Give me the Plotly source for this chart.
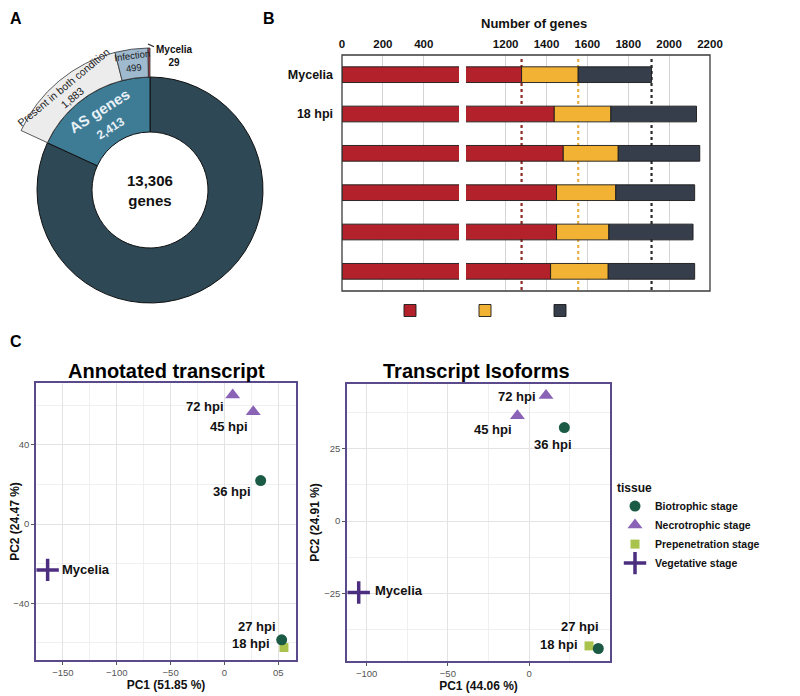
import math
import plotly.graph_objects as go

# The page body has an 8 px margin, so the figure is 792x688 placed at (8, 8).
OFF = 8
W, H = 800 - OFF, 696 - OFF
FONT = "Liberation Sans, Arial, Helvetica, sans-serif"


def px(x):
    return (x - OFF) / W


def py(y):
    return 1 - (y - OFF) / H


# ---------------- data ----------------
# Panel A
total_genes = 13306
as_genes = 2413
as_label = "AS genes"
split_labels = ["Mycelia", "Infection", "Present in both condition"]
split_values = [29, 499, 1883]

# Panel B
stages = ["Mycelia", "18 hpi", "27 hpi", "36 hpi", "45 hpi", "72 hpi"]
stage_ticktext = ["Mycelia", "18 hpi", "", "", "", ""]
seg_red = [1278, 1438, 1482, 1449, 1449, 1420]
seg_yellow = [277, 277, 269, 290, 256, 282]
seg_dark = [359, 419, 399, 386, 412, 423]
ticks_left = [0, 200, 400]
ticks_right = [1200, 1400, 1600, 1800, 2000, 2200]
x_title_b = "Number of genes"

# Panel C
samples = ["18 hpi", "27 hpi", "36 hpi", "45 hpi", "72 hpi", "Mycelia"]
tissue = ["Prepenetration stage", "Biotrophic stage", "Biotrophic stage",
          "Necrotrophic stage", "Necrotrophic stage", "Vegetative stage"]
annot_pc1 = [55.2, 53.1, 33.6, 26.7, 7.6, -164.2]
annot_pc2 = [-62.3, -58.4, 22.0, 56.8, 65.3, -23.1]
iso_pc1 = [36.9, 42.6, 21.7, -7.2, 10.4, -104.9]
iso_pc2 = [-43.0, -43.9, 32.2, 36.3, 43.2, -24.6]
annot_var = [51.85, 24.47]
iso_var = [44.06, 24.91]
tissue_levels = ["Biotrophic stage", "Necrotrophic stage", "Prepenetration stage", "Vegetative stage"]
annot_xticks = [-150, -100, -50, 0, 50]
annot_xticktext = ["\u2212150", "\u2212100", "\u221250", "0", "05"]
annot_yticks = [-40, 0, 40]
iso_xticks = [-100, -50, 0]
iso_yticks = [-25, 0, 25]

# ---------------- styles ----------------
C_DARK = "#2e4855"
C_AS = "#3e7c96"
C_BOTH = "#ececec"
C_INF = "#9fb9cf"
C_MYC = "#b5404e"
B_RED = "#b3222a"
B_YEL = "#f2b335"
B_DRK = "#363e4c"
FRAME_C = "#5b4a8b"
tissue_style = {
    "Biotrophic stage": dict(symbol="circle", color="#1b5a45", size=11, lw=0),
    "Necrotrophic stage": dict(symbol="triangle-up", color="#8a63b6", size=13, lw=0),
    "Prepenetration stage": dict(symbol="square", color="#a9c34d", size=9, lw=0),
    "Vegetative stage": dict(symbol="cross-thin", color="#4b2e80", size=16, lw=3.5),
}
draw_order = ["Prepenetration stage", "Vegetative stage", "Necrotrophic stage", "Biotrophic stage"]
annot_label_pos = {
    "72 hpi": ("right", -7, -12), "45 hpi": ("right", -3, -15),
    "36 hpi": ("right", -8, -11), "Mycelia": ("left", 12, 0),
    "27 hpi": ("right", -4, 13), "18 hpi": ("right", -12, 4),
}
iso_label_pos = {
    "72 hpi": ("right", -8, -1), "45 hpi": ("right", -3, -14),
    "36 hpi": ("center", -11, -17), "Mycelia": ("left", 14, 2),
    "27 hpi": ("right", 3, 22), "18 hpi": ("right", -9, 1),
}
# donut geometry (reference pixels)
CX, CY = 150, 190
R_OUT, R_MID, R_IN = 142, 113, 58

fig = go.Figure()

# ---------------- Panel A: donut ----------------
fig.add_trace(go.Pie(
    values=[total_genes - as_genes, as_genes],
    labels=["Other genes", as_label],
    text=["", f"<b>{as_label}</b><br><span style='font-size:12px'><b>{as_genes:,}</b></span>"],
    textinfo="text", textposition="inside", insidetextorientation="tangential",
    textfont=dict(family=FONT, size=15, color="#e8f1f6"),
    marker=dict(colors=[C_DARK, C_AS], line=dict(color="#111111", width=1)),
    hole=R_IN / R_MID, sort=False, direction="clockwise", rotation=0,
    domain=dict(x=[px(CX - R_MID), px(CX + R_MID)], y=[py(CY + R_MID), py(CY - R_MID)]),
    showlegend=False, hoverinfo="skip",
))
outer_vals = [total_genes - sum(split_values)] + split_values[::-1]
fig.add_trace(go.Pie(
    values=outer_vals,
    labels=["rest"] + split_labels[::-1],
    textinfo="none",
    marker=dict(colors=["rgba(0,0,0,0)", C_BOTH, C_INF, C_MYC],
                line=dict(color=["rgba(0,0,0,0)", "#333333", "#333333", "#333333"],
                          width=[0, 0.8, 0.8, 0.8])),
    hole=R_MID / R_OUT, sort=False, direction="clockwise", rotation=0,
    domain=dict(x=[px(CX - R_OUT), px(CX + R_OUT)], y=[py(CY + R_OUT), py(CY - R_OUT)]),
    showlegend=False, hoverinfo="skip",
))

# ---------------- Panel B: broken-axis stacked bars ----------------
yel_base = [r for r in seg_red]
dark_base = [r + y for r, y in zip(seg_red, seg_yellow)]
bar_line = dict(color="#1a1a1a", width=0.9)
fig.add_trace(go.Bar(y=stages, x=seg_red, orientation="h", xaxis="x", yaxis="y",
                     marker=dict(color=B_RED, line=bar_line), width=0.4,
                     showlegend=False, hoverinfo="skip"))
fig.add_trace(go.Bar(y=stages, x=seg_red, orientation="h", xaxis="x2", yaxis="y",
                     marker=dict(color=B_RED, line=bar_line), width=0.4, name="",
                     legend="legend2", showlegend=True, hoverinfo="skip"))
fig.add_trace(go.Bar(y=stages, x=seg_yellow, base=yel_base, orientation="h", xaxis="x2", yaxis="y",
                     marker=dict(color=B_YEL, line=bar_line), width=0.4, name="",
                     legend="legend2", showlegend=True, hoverinfo="skip"))
fig.add_trace(go.Bar(y=stages, x=seg_dark, base=dark_base, orientation="h", xaxis="x2", yaxis="y",
                     marker=dict(color=B_DRK, line=bar_line), width=0.4, name="",
                     legend="legend2", showlegend=True, hoverinfo="skip"))

myc_cum = [seg_red[0], seg_red[0] + seg_yellow[0], seg_red[0] + seg_yellow[0] + seg_dark[0]]
ref_colors = ["#8e2b22", "#eab14a", "#2b2b2b"]
shapes = []
for v, c in zip(myc_cum, ref_colors):
    shapes.append(dict(type="line", xref="x2", yref="paper", x0=v, x1=v, y0=py(290), y1=py(56),
                       line=dict(color=c, width=2.2, dash="dot"), layer="below"))
shapes.append(dict(type="rect", xref="paper", yref="paper", x0=px(342), x1=px(710),
                   y0=py(291), y1=py(55), line=dict(color="#3a3a3a", width=1.3),
                   fillcolor="rgba(0,0,0,0)", layer="above"))

# ---------------- Panel C: PCA scatters ----------------
def add_pca(pc1, pc2, xa, ya, show):
    for t in draw_order:
        idx = [i for i, tt in enumerate(tissue) if tt == t]
        st = tissue_style[t]
        mk = dict(symbol=st["symbol"], color=st["color"], size=st["size"])
        if st["lw"]:
            mk["line"] = dict(color=st["color"], width=st["lw"])
        fig.add_trace(go.Scatter(
            x=[pc1[i] for i in idx], y=[pc2[i] for i in idx], mode="markers",
            marker=mk, name=t, legendgroup=t, showlegend=show,
            legendrank=tissue_levels.index(t) + 1,
            xaxis=xa, yaxis=ya, hoverinfo="skip"))


add_pca(annot_pc1, annot_pc2, "x3", "y3", True)
add_pca(iso_pc1, iso_pc2, "x4", "y4", False)

annotations = []
lab_font = dict(family=FONT, size=13, color="#111111", weight="bold")
for xs, ys, xa, ya, pos in [(annot_pc1, annot_pc2, "x3", "y3", annot_label_pos),
                            (iso_pc1, iso_pc2, "x4", "y4", iso_label_pos)]:
    for s, xv, yv in zip(samples, xs, ys):
        anc, dx, dy = pos[s]
        annotations.append(dict(x=xv, y=yv, xref=xa, yref=ya, text=s, showarrow=False,
                                xanchor=anc, yanchor="middle", xshift=dx, yshift=dy, font=lab_font))


def paper_text(x, y, text, size, color="#111111", weight="bold", angle=0,
               xanchor="center", yanchor="middle"):
    return dict(x=px(x), y=py(y), xref="paper", yref="paper", text=text, showarrow=False,
                xanchor=xanchor, yanchor=yanchor, textangle=angle,
                font=dict(family=FONT, size=size, color=color, weight=weight))


# Panel A texts: outer ring labels placed along the ring at each slice's mid angle
cum = 0.0
r_lab = (R_MID + R_OUT) / 2
for lab, v in zip(split_labels, split_values):
    a0 = cum / total_genes * 360
    cum += v
    a1 = cum / total_genes * 360
    if lab == split_labels[0]:
        continue
    th = (a0 + a1) / 2
    rr = r_lab + (2 if lab == "Infection" else 0)
    annotations.append(paper_text(CX - rr * math.sin(math.radians(th)),
                                  CY - rr * math.cos(math.radians(th)),
                                  f"{lab}<br>{v:,}", 9.5 if lab == "Infection" else 10.5,
                                  color="#1a1a1a", weight="normal", angle=-th))

annotations.append(paper_text(CX, CY, f"{total_genes:,}<br>genes", 15))
annotations.append(dict(x=px(CX - 2), y=py(CY - R_OUT - 4), xref="paper", yref="paper",
                        text=f"{split_labels[0]}<br>{split_values[0]}", showarrow=True,
                        ax=26, ay=12, arrowhead=0, arrowwidth=1.3, arrowcolor="#222222",
                        xanchor="center", yanchor="middle",
                        font=dict(family=FONT, size=10, color="#111111", weight="bold")))
# Panel letters and titles
annotations.append(paper_text(OFF, OFF, "A", 16, color="#000000", xanchor="left", yanchor="top"))
annotations.append(paper_text(269, OFF, "B", 16, color="#000000", yanchor="top"))
annotations.append(paper_text(OFF, 341, "C", 16, color="#000000", xanchor="left"))
annotations.append(paper_text(534, 23, x_title_b, 13))
annotations.append(paper_text(166, 371, "Annotated transcript", 20, color="#000000"))
annotations.append(paper_text(477, 371, "Transcript Isoforms", 20, color="#000000"))

tick_b = dict(family=FONT, size=11.5, color="#111111", weight="bold")
grid_b = "#d4d4d4"

pca_common = dict(showline=True, mirror=True, linecolor=FRAME_C, linewidth=1.6,
                  ticks="outside", ticklen=3, tickcolor="#555555", tickwidth=1,
                  tickfont=dict(family=FONT, size=9.5, color="#555555"),
                  showgrid=True, gridcolor="#e3e3e3", gridwidth=1.1, zeroline=False,
                  automargin=False)
minor_grid = dict(showgrid=True, gridcolor="#f0f0f0", gridwidth=0.6)
axt = dict(family=FONT, size=12, color="#111111", weight="bold")

fig.update_layout(
    width=W, height=H, margin=dict(l=0, r=0, t=0, b=0),
    paper_bgcolor="white", plot_bgcolor="white", barmode="overlay",
    font=dict(family=FONT),
    xaxis=dict(domain=[px(342), px(459)], range=[0, 572], anchor="y", side="top",
               tickvals=ticks_left, tickfont=tick_b, showgrid=True, gridcolor=grid_b, gridwidth=1.3,
               zeroline=False, showline=False, ticks="", ticklabelstandoff=4, automargin=False),
    xaxis2=dict(domain=[px(466), px(710)], range=[1006, 2200], anchor="y", side="top",
                tickvals=ticks_right, tickfont=tick_b, showgrid=True, gridcolor=grid_b, gridwidth=1.3,
                zeroline=False, showline=False, ticks="", ticklabelstandoff=4, automargin=False),
    yaxis=dict(domain=[py(291), py(55)], anchor="x", type="category", categoryarray=stages,
               categoryorder="array", autorange="reversed", tickvals=stages, ticktext=stage_ticktext,
               tickfont=dict(family=FONT, size=12.5, color="#111111", weight="bold"),
               showgrid=False, zeroline=False, showline=False, ticks="", ticklabelstandoff=8,
               automargin=False),
    xaxis3=dict(domain=[px(36), px(296)], range=[-175, 66.4], anchor="y3",
                tickvals=annot_xticks, ticktext=annot_xticktext,
                minor=dict(tickvals=[-125, -75, -25, 25], **minor_grid),
                title=dict(text=f"PC1 ({annot_var[0]:.2f} %)", font=axt, standoff=3), **pca_common),
    yaxis3=dict(domain=[py(660), py(383)], range=[-68.6, 71.3], anchor="x3",
                tickvals=annot_yticks, minor=dict(tickvals=[-60, -20, 20, 60], **minor_grid),
                title=dict(text=f"PC2 ({annot_var[1]:.2f} %)", font=axt, standoff=2), **pca_common),
    xaxis4=dict(domain=[px(347), px(610)], range=[-112.1, 49.8], anchor="y4",
                tickvals=iso_xticks, minor=dict(tickvals=[-75, -25, 25], **minor_grid),
                title=dict(text=f"PC1 ({iso_var[0]:.2f} %)", font=axt, standoff=3), **pca_common),
    yaxis4=dict(domain=[py(661), py(384)], range=[-48.2, 47.2], anchor="x4",
                tickvals=iso_yticks, minor=dict(tickvals=[-37.5, -12.5, 12.5, 37.5], **minor_grid),
                title=dict(text=f"PC2 ({iso_var[1]:.2f} %)", font=axt, standoff=2), **pca_common),
    legend=dict(x=px(615), y=py(476), xanchor="left", yanchor="top",
                title=dict(text="tissue", font=dict(family=FONT, size=12, color="#111111", weight="bold")),
                font=dict(family=FONT, size=10.5, color="#111111", weight="bold"),
                bgcolor="rgba(0,0,0,0)", tracegroupgap=0, itemclick=False),
    legend2=dict(orientation="h", x=px(390), y=py(296), xanchor="left", yanchor="top",
                 entrywidth=30, entrywidthmode="pixels", bgcolor="rgba(0,0,0,0)",
                 font=dict(family=FONT, size=10), traceorder="normal"),
    shapes=shapes,
    annotations=annotations,
)

fig.write_html("out.html")
